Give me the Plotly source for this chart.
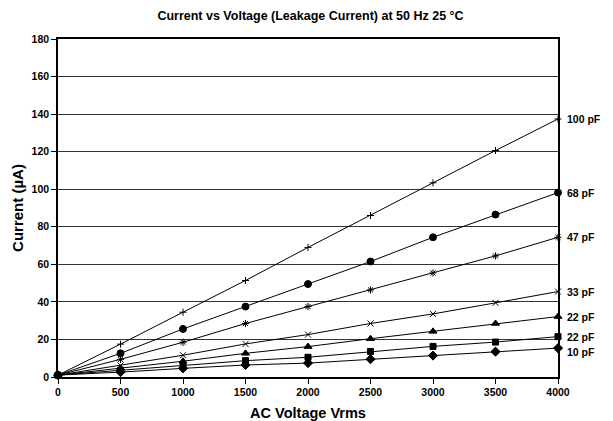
import plotly.graph_objects as go

voltage = [0, 500, 1000, 1500, 2000, 2500, 3000, 3500, 4000]
x_ticks = [0, 500, 1000, 1500, 2000, 2500, 3000, 3500, 4000]
y_ticks = [0, 20, 40, 60, 80, 100, 120, 140, 160, 180]

series_names = ["100 pF", "68 pF", "47 pF", "33 pF", "22 pF", "22 pF", "10 pF"]
i_100pF = [1, 17.5, 34.5, 51.4, 69.0, 86.0, 103.4, 120.6, 137.4]
i_68pF = [1, 12.6, 25.6, 37.5, 49.5, 61.5, 74.4, 86.5, 98.2]
i_47pF = [1, 9.4, 18.5, 28.5, 37.5, 46.4, 55.4, 64.5, 74.4]
i_33pF = [1, 6.2, 11.6, 17.6, 22.6, 28.5, 33.6, 39.5, 45.5]
i_22pF_a = [1, 4.6, 8.4, 12.6, 16.2, 20.4, 24.3, 28.5, 32.2]
i_22pF_b = [1, 3.6, 6.1, 8.7, 10.5, 13.6, 16.3, 18.6, 21.5]
i_10pF = [1, 2.6, 4.6, 6.4, 7.4, 9.5, 11.4, 13.5, 15.4]

values = [i_100pF, i_68pF, i_47pF, i_33pF, i_22pF_a, i_22pF_b, i_10pF]
symbols = ["cross-thin-open", "circle", "asterisk-open", "x-thin-open",
           "triangle-up", "square", "diamond"]
sizes = [5, 7, 6, 6, 7, 6, 7]
label_shift = [0, 0, 0, 0, 0, 0, -4]

FONT = "Liberation Sans, Arial, sans-serif"
# the page body has an 8 px margin, so the figure is sized to fit the window
W, H = 605, 413

fig = go.Figure()
for name, vals, sym, sz in zip(series_names, values, symbols, sizes):
    fig.add_trace(go.Scatter(
        x=voltage, y=vals, mode="lines+markers", name=name,
        line=dict(color="black", width=1),
        marker=dict(symbol=sym, size=sz, color="black",
                    line=dict(color="black", width=1)),
        showlegend=False, cliponaxis=False,
    ))

for name, vals, sh in zip(series_names, values, label_shift):
    fig.add_annotation(
        x=voltage[-1], y=vals[-1], text="<b>%s</b>" % name,
        xref="x", yref="y", showarrow=False, xanchor="left",
        xshift=7, yshift=sh, font=dict(family=FONT, size=10.5, color="black"),
    )

fig.update_layout(
    width=W, height=H,
    margin=dict(l=50, r=55, t=31, b=44, autoexpand=False),
    paper_bgcolor="white", plot_bgcolor="white",
    title=dict(text="<b>Current vs Voltage (Leakage Current) at 50 Hz 25 °C</b>",
               x=0.5, xanchor="center", xref="container",
               y=1 - 8 / H, yanchor="middle", yref="container",
               font=dict(family=FONT, size=12.5, color="black")),
    font=dict(family=FONT, color="black"),
)

fig.update_xaxes(
    range=[0, 4000], tickvals=x_ticks, automargin=False,
    ticktext=["<b>%d</b>" % v for v in x_ticks],
    tickfont=dict(family=FONT, size=10.5, color="black"),
    ticks="outside", ticklen=5, tickcolor="black",
    showline=True, linecolor="black", linewidth=1.5, mirror=True,
    showgrid=False, zeroline=False,
    title=dict(text="<b>AC Voltage Vrms</b>", standoff=12,
               font=dict(family=FONT, size=14.5, color="black")),
)
fig.update_yaxes(
    range=[0, 180], tickvals=y_ticks, automargin=False,
    ticktext=["<b>%d</b>" % v for v in y_ticks],
    tickfont=dict(family=FONT, size=10.5, color="black"),
    ticks="outside", ticklen=5, tickcolor="black",
    showline=True, linecolor="black", linewidth=1.5, mirror=True,
    showgrid=True, gridcolor="#333333", gridwidth=1, zeroline=False,
    title=dict(text="<b>Current (µA)</b>", standoff=4,
               font=dict(family=FONT, size=15, color="black")),
)

fig.write_html("out.html")
